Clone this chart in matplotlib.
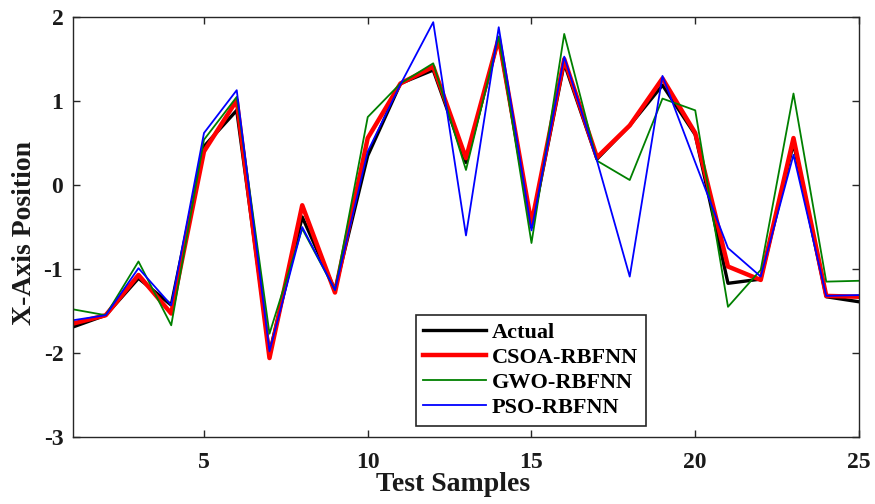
import numpy as np
import matplotlib
matplotlib.use('Agg')
import matplotlib.pyplot as plt

plt.rcParams['font.family'] = ['Liberation Serif', 'DejaVu Serif']
plt.rcParams['font.weight'] = 'bold'
plt.rcParams['axes.unicode_minus'] = False

# test samples and predicted x-axis positions
samples = np.arange(1, 26)
actual = [-1.69, -1.55, -1.11, -1.43, 0.46, 0.89, -2.00, -0.38, -1.25, 0.35,
          1.21, 1.37, 0.27, 1.75, -0.50, 1.45, 0.31, 0.71, 1.19, 0.60,
          -1.17, -1.12, 0.50, -1.33, -1.39]
csoa = [-1.65, -1.55, -1.07, -1.53, 0.40, 1.01, -2.06, -0.24, -1.28, 0.56,
        1.21, 1.41, 0.32, 1.75, -0.46, 1.50, 0.33, 0.71, 1.27, 0.62,
        -0.97, -1.13, 0.56, -1.32, -1.33]
gwo = [-1.48, -1.55, -0.91, -1.67, 0.54, 1.05, -1.77, -0.52, -1.25, 0.81,
       1.21, 1.45, 0.18, 1.77, -0.69, 1.80, 0.29, 0.06, 1.03, 0.89,
       -1.45, -1.01, 1.09, -1.15, -1.14]
pso = [-1.61, -1.55, -0.99, -1.43, 0.62, 1.13, -1.98, -0.50, -1.25, 0.40,
       1.20, 1.94, -0.60, 1.88, -0.54, 1.53, 0.29, -1.09, 1.30, 0.27,
       -0.75, -1.09, 0.36, -1.32, -1.31]

fig = plt.figure(figsize=(8.75, 5.04), dpi=100)
ax = fig.add_axes([0.0834, 0.133, 0.8983, 0.833])

ax.plot(samples, actual, color='black', lw=2.4, label='Actual')
ax.plot(samples, csoa, color='#ff0000', lw=3.2, label='CSOA-RBFNN')
ax.plot(samples, gwo, color='#008000', lw=1.3, label='GWO-RBFNN')
ax.plot(samples, pso, color='#0000ff', lw=1.3, label='PSO-RBFNN')

ax.set_xlim(1, 25)
ax.set_ylim(-3, 2)
ax.set_xticks([5, 10, 15, 20, 25])
ax.set_yticks([-3, -2, -1, 0, 1, 2])
ax.tick_params(direction='in', top=True, right=True, labelsize=17,
               length=5, width=1, colors='#262626', labelcolor='#1a1a1a')
ax.tick_params(axis='x', pad=11)
ax.tick_params(axis='y', pad=7)
for s in ax.spines.values():
    s.set_color('#262626')
    s.set_linewidth(1)

ax.set_xlabel('Test Samples', fontsize=20, fontweight='bold', color='#1a1a1a')
ax.set_ylabel('X-Axis Position', fontsize=20, fontweight='bold', color='#1a1a1a')
ax.xaxis.set_label_coords(0.483, -0.083)
ax.yaxis.set_label_coords(-0.046, 0.486)

leg = ax.legend(loc='lower left', bbox_to_anchor=(0.436, 0.026),
                prop={'size': 16, 'weight': 'bold'}, fancybox=False,
                edgecolor='#262626', framealpha=1, borderaxespad=0,
                handlelength=2.8, labelspacing=0.2, handletextpad=0.27,
                borderpad=0.35)
leg.get_frame().set_linewidth(1.2)

fig.savefig('out.png', dpi=100)
